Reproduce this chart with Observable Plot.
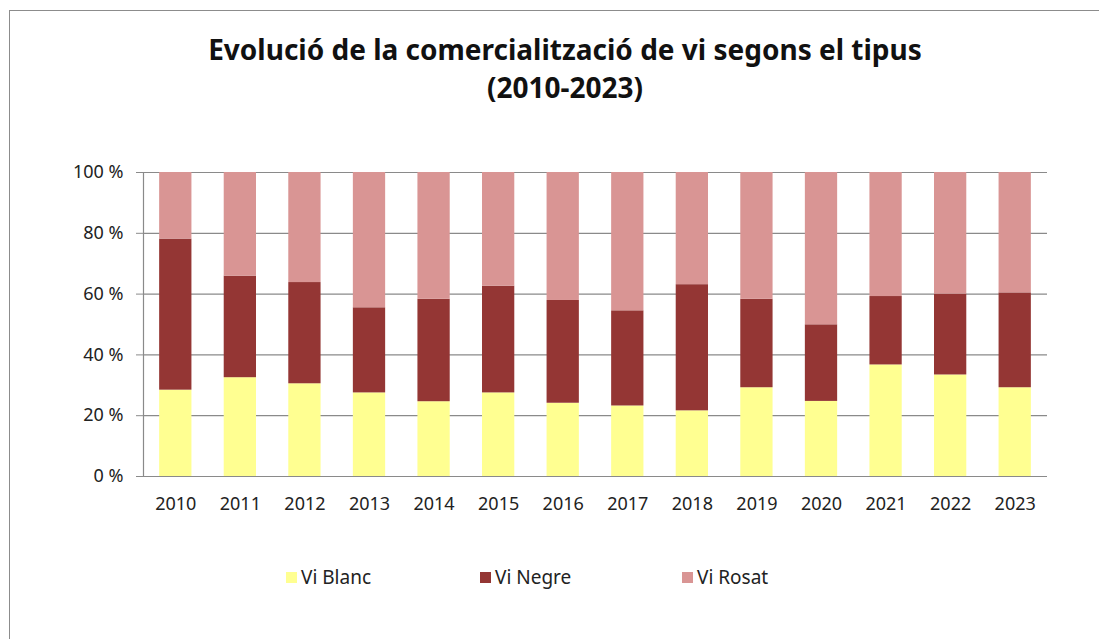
<!DOCTYPE html>
<html>
<head>
<meta charset="utf-8">
<script src="https://cdn.jsdelivr.net/npm/d3@7"></script>
<script src="https://cdn.jsdelivr.net/npm/@observablehq/plot@0.6"></script>
<style>
  html, body { margin: 0; padding: 0; background: #fff; }
  body { width: 1099px; height: 639px; position: relative; overflow: hidden; font-family: "Noto Sans", "Open Sans", sans-serif; }
  #frame { position: absolute; left: 9px; top: 10px; width: 1200px; height: 800px; border-left: 1.5px solid #8c8c8c; border-top: 1.5px solid #8c8c8c; }
  #title { position: absolute; left: 0; top: 30px; width: 1130px; text-align: center; font-weight: bold; font-size: 28px; line-height: 38px; color: #111; }
  #chart { position: absolute; left: 0; top: 140px; }
  .leg { position: absolute; top: 564px; font-size: 19px; color: #222; display: flex; align-items: center; }
  .leg span.sw { display: inline-block; width: 11px; height: 11px; margin-right: 4px; }
</style>
</head>
<body>
<div id="frame"></div>
<div id="title">Evolució de la comercialització de vi segons el tipus<br>(2010-2023)</div>
<div id="chart"></div>
<div id="legend"></div>
<script>
const years = ["2010","2011","2012","2013","2014","2015","2016","2017","2018","2019","2020","2021","2022","2023"];
const seriesNames = ["Vi Blanc", "Vi Negre", "Vi Rosat"];
const seriesColors = ["#FFFF91", "#943634", "#D99594"];
const viBlanc = [28.4, 32.5, 30.5, 27.5, 24.6, 27.5, 24.1, 23.2, 21.6, 29.2, 24.7, 36.7, 33.4, 29.2];
const viNegre = [49.7, 33.4, 33.3, 28.0, 33.7, 35.1, 33.8, 31.3, 41.5, 29.1, 25.2, 22.5, 26.6, 31.2];
const viRosat = [21.9, 34.1, 36.2, 44.5, 41.7, 37.4, 42.1, 45.5, 36.9, 41.7, 50.1, 40.8, 40.0, 39.6];
const yTicks = [0, 20, 40, 60, 80, 100];

const seriesValues = [viBlanc, viNegre, viRosat];
const data = [];
seriesNames.forEach((name, si) => {
  years.forEach((y, i) => data.push({year: y, type: name, value: seriesValues[si][i]}));
});

const chart = Plot.plot({
  width: 1099,
  height: 390,
  marginLeft: 143,
  marginRight: 52,
  marginTop: 32,
  marginBottom: 54,
  style: {fontFamily: "'Noto Sans', 'Open Sans', sans-serif", fontSize: "18px", color: "#222", background: "transparent"},
  x: {domain: years, paddingInner: 0.5, paddingOuter: 0.25, round: false, label: null},
  y: {domain: [0, 100], label: null},
  color: {domain: seriesNames, range: seriesColors},
  marks: [
    Plot.gridY(yTicks, {stroke: "#8a8a8a", strokeOpacity: 1, strokeWidth: 1.2}),
    Plot.barY(data, {x: "year", y: "value", fill: "type", order: seriesNames}),
    Plot.ruleY([0], {stroke: "#8a8a8a", strokeWidth: 1.2}),
    Plot.frame({anchor: "left", stroke: "#8a8a8a", strokeWidth: 1.2}),
    Plot.axisY(yTicks, {tickSize: 7, tickPadding: 13, stroke: "#8a8a8a", tickFormat: d => `${d} %`, fill: "#222", fontSize: 18}),
    Plot.axisX({tickSize: 0, tickPadding: 21, fill: "#222", fontSize: 18})
  ]
});
document.getElementById("chart").appendChild(chart);

const legendX = [286, 480, 682];
const legend = document.getElementById("legend");
seriesNames.forEach((name, i) => {
  const d = document.createElement("div");
  d.className = "leg";
  d.style.left = legendX[i] + "px";
  d.innerHTML = `<span class="sw" style="background:${seriesColors[i]}"></span>${name}`;
  legend.appendChild(d);
});
</script>
</body>
</html>
